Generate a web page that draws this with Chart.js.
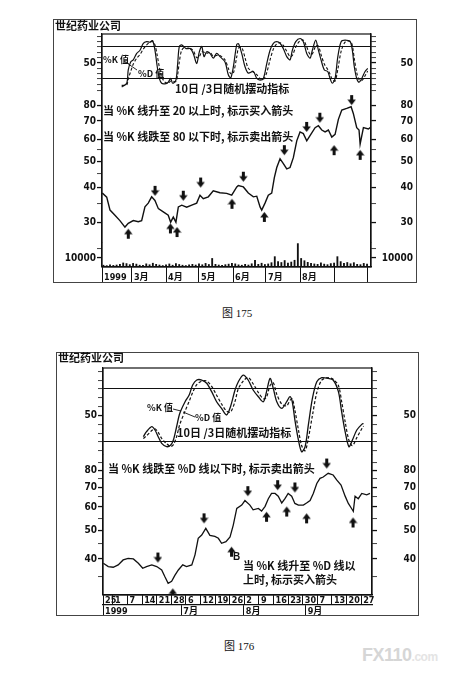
<!DOCTYPE html>
<html>
<head>
<meta charset="utf-8">
<script src="https://cdn.jsdelivr.net/npm/chart.js@4.4.1/dist/chart.umd.min.js"></script>
<style>
  body { margin: 0; background: #fff; width: 456px; height: 686px; position: relative; overflow: hidden; }
  canvas { position: absolute; }
  #fig175 { left: 53px; top: 19px; }
  #fig176 { left: 56px; top: 352px; }
  .cap { position: absolute; font: 11px 'Liberation Serif', 'Noto Sans CJK SC', serif; line-height: 14px; color: #111; white-space: nowrap; }
  .wm { position: absolute; left: 362px; top: 645px; font: bold 18px 'Liberation Sans', sans-serif; color: #d6d6d6; letter-spacing: -0.5px; }
  .wm span { font-size: 12px; color: #e4e4e4; }
</style>
</head>
<body>
<canvas id="fig175" width="364" height="264"></canvas>
<canvas id="fig176" width="363" height="264"></canvas>
<div class="cap" style="left:222px;top:306px">图 175</div>
<div class="cap" style="left:224px;top:639px">图 176</div>
<div class="wm">FX110<span>.com</span></div>

<script>
// ---- 图175 : daily, x = calendar day counted from 1 Feb 1999 ----
const topMonthTicks = [0.7, 28, 59, 89, 120, 150, 181, 212, 242];
const topMonthLabels = ['1999', '3月', '4月', '5月', '6月', '7月', '8月', '', ''];

const topPriceDays = [1, 5, 8, 12.5, 17, 21.6, 24.6, 29.2, 33.7, 36.8, 39.8, 42.8, 45.9, 48.9, 52,
  56.5, 61, 63.2, 65.6, 68, 70.2, 73.3, 77.8, 82.4, 86.9, 89.9, 92.9, 97.5, 102, 108.1,
  114.2, 118.8, 123.4, 124.8, 129.4, 133.9, 138.5, 141.6, 144.6, 146.1, 149.1, 152.1, 155.2, 157.6, 159.8,
  162.8, 165.8, 168.9, 171.9, 174.9, 178, 181, 184, 187.1, 190.1, 194.7, 197.7, 200.8, 203.8, 206.8,
  209.9, 212.9, 215.9, 219, 223.5, 227.5, 229.5, 232.6, 234.7, 235.7, 238.7, 243.2, 244.8];
const topPrice = [38.3, 37, 33.2, 31.8, 30.4, 28.8, 29.7, 30.4, 30.1, 30.4, 34.1, 35.2, 37.1, 36, 33.6,
  32.7, 31.8, 30.0, 31.3, 30, 34.1, 34.6, 34, 34.6, 35.2, 37.6, 36.5, 37.1, 39.0, 38.4,
  38.2, 37.6, 40.3, 40.8, 40.3, 38.3, 37.1, 37.3, 34.1, 33.2, 35.2, 37.6, 38.3, 43.6, 47.4,
  51.0, 49.0, 46.9, 47.4, 51.5, 59.3, 63.9, 63.0, 59.3, 62, 66.2, 67.3, 64.9, 63.9, 64.9,
  61.2, 62.6, 71.0, 76.7, 77.8, 78.9, 74.6, 66.2, 64.9, 57.7, 66.2, 65.5, 66.2];

const topOscDays = [18.6, 23.2, 24.6, 26.8, 29.2, 32.3, 35.3, 38.3, 41.4, 44.4, 46.8, 48.9, 51, 52.9, 55,
  58, 61, 63.2, 65, 68, 69.6, 71.1, 73.3, 77.2, 80.8, 83.8, 86.9, 89.3, 91.5, 93.6,
  96, 99, 102, 105.1, 108.1, 112.7, 115.7, 117.9, 120.3, 123.4, 125, 127.9, 130.9, 133.9, 138.5,
  141.6, 144.6, 147.6, 150.7, 153.7, 156.7, 159.8, 162.8, 165.8, 168.9, 171.9, 174, 177.1, 181, 184,
  187.1, 190.1, 192.2, 195.3, 197.7, 200.1, 203.1, 206.2, 208.3, 210.4, 212.9, 215.4, 218.4, 222, 226.6,
  228.6, 230.4, 232.6, 234.7, 237.2, 240.2, 242.6];
const topK = [5, 12, 37, 52, 56, 68, 74, 87, 90, 89, 92, 74, 43, 21, 12,
  11, 14, 21, 12, 18, 49, 81, 84, 77, 77, 68, 49, 71, 81, 62,
  71, 68, 59, 68, 62, 52, 28, 22, 43, 85, 86, 68, 43, 31, 34,
  21, 18, 21, 49, 74, 87, 90, 87, 77, 62, 56, 74, 90, 96, 90,
  68, 59, 74, 93, 74, 56, 37, 34, 21, 12, 21, 62, 90, 93, 90,
  74, 43, 21, 14, 21, 34, 40];
const topD = [8, 9, 20, 34, 48, 59, 66, 76, 84, 89, 90, 84, 64, 42, 24,
  14, 12, 16, 16, 15, 28, 52, 74, 81, 78, 73, 60, 62, 71, 70,
  68, 70, 63, 64, 64, 56, 40, 30, 31, 62, 78, 79, 60, 40, 33,
  28, 21, 19, 32, 56, 76, 86, 88, 83, 72, 62, 64, 80, 92, 93,
  80, 66, 67, 82, 82, 66, 48, 38, 29, 19, 16, 38, 72, 89, 91,
  83, 58, 32, 19, 17, 26, 35];

const topVolDays = [2, 5, 8, 11, 14, 17, 20, 23, 26, 29, 32, 35, 38, 41, 44, 47, 50, 53, 56, 59,
  62, 65, 68, 71, 74, 77, 80, 83, 86, 89, 92, 95, 98, 101, 104, 107, 110, 113, 116, 119,
  122, 125, 128, 131, 134, 137, 140, 143, 146, 149, 152, 155, 158, 161, 164, 167, 170, 173, 176, 179,
  182, 185, 188, 191, 194, 197, 200, 203, 206, 209, 212, 215, 218, 221, 224, 227, 230, 233, 236, 239, 242];
const topVolume = [2000, 1500, 2500, 1800, 2200, 3000, 4500, 3800, 2600, 4000, 3200, 2000, 1800, 3500, 2500, 4200, 3000, 2200, 1600, 2400,
  3400, 2000, 3800, 2800, 2000, 1600, 2400, 3000, 2200, 3600, 2500, 4000, 2800, 9500, 3000, 2200, 1800, 2600, 3200, 4000,
  3500, 2400, 2000, 3000, 2200, 3600, 7500, 3000, 4200, 2800, 3400, 4800, 11500, 6000, 5000, 7200, 4400, 5500, 7500, 26000,
  9500, 7000, 5200, 4000, 3400, 3000, 4600, 3200, 2600, 3800, 4400, 11500, 6000, 4200, 5000, 3600, 4800, 3000, 2600, 4000, 3200];

const topSellDays = [49, 74.7, 90.5, 129.4, 166.7, 187, 199, 228];
const topSellPrices = [37.4, 35.9, 40.1, 42.1, 52.6, 63.9, 69, 80];
const topBuyDays = [24.6, 63, 69, 119, 148.5, 212, 235.7];
const topBuyPrices = [28.4, 29.7, 28.8, 36.5, 32.7, 57.2, 55];

// ---- 图176 : x = trading day counted from Mon 24 May 1999 ----
const botDayTicks = [1.6, 5, 10, 15, 20, 25, 30, 35, 40, 45, 50, 55, 60, 65, 70, 75, 80, 85, 90];
const botDayLabels = ['25', '1', '7', '14', '21', '28', '6', '12', '19', '26', '2', '9', '16', '23', '30', '7', '13', '20', '27'];
const botMonthTicks = [1.6, 28.4, 49.8, 71];
const botMonthLabels = ['1999', '7月', '8月', '9月'];

const botPriceDays = [1.7, 3.4, 5.1, 6.8, 8.5, 10.2, 12, 13.7, 15.2, 16.5, 18.3, 20, 21.7, 22.8, 23.9,
  25.1, 26.2, 27.4, 28.9, 30.2, 32, 33.1, 34.2, 35.4, 36.8, 38.2, 39.9, 41.1, 42.2, 43.7,
  45.1, 46.2, 47.4, 49.1, 50.2, 51.9, 53, 54.8, 55.9, 57.1, 58.2, 59.3, 60.5, 61.6, 62.8,
  63.9, 65, 66.2, 67.3, 68.5, 70.2, 71.3, 72.5, 73.6, 74.8, 75.9, 77, 78.7, 80.4, 81.6,
  83.1, 84.5, 85.6, 86.7, 87.3, 87.9, 89, 90.2, 91.9, 93];
const botPrice = [38.7, 37.7, 37.5, 38.2, 39.7, 40.2, 40.0, 38.7, 37.2, 37.7, 38.2, 37.7, 36.7, 34.8, 33.1,
  33.6, 35.2, 36.7, 38.2, 37.7, 38.2, 41.3, 47.0, 48.2, 50.8, 48.1, 47.7, 47.0, 45.2, 45.8,
  47.5, 52.1, 59.3, 60.9, 63.1, 60.9, 58.7, 59.3, 58.1, 60.3, 64.0, 66.7, 66.7, 65.3, 61.9,
  64.0, 66.7, 65.3, 61.7, 60.9, 60.9, 61.9, 63.1, 66.7, 72.1, 75.0, 75.8, 78, 77, 74.1,
  71.2, 65.3, 61.7, 59.3, 58, 65.3, 64.0, 66.7, 66, 66.7];

const botOscDays = [15.4, 16.5, 18.3, 19.4, 20.5, 21.7, 23.4, 24.8, 25.7, 26.8, 27.9, 29.7, 31.1, 32.3, 33.7,
  35.4, 37.1, 38.8, 40.5, 42.2, 43.9, 45.3, 46.8, 47.9, 49.6, 51.3, 53, 54.8, 56.5, 57.6,
  58.8, 59.9, 61.1, 62.8, 64.5, 65.6, 66.4, 67.3, 68.5, 69.6, 70.8, 71.9, 73.3, 74.8, 76.5,
  78.7, 80.4, 82.2, 83.3, 84.5, 85.8, 87, 88.5, 90.2, 90.8];
const botK = [26, 31.7, 37.3, 33.6, 26, 18.5, 14.7, 16.6, 22.3, 37.3, 52.5, 65.6, 73.2, 84.5, 90.2,
  90.2, 86.5, 77, 65.6, 58.1, 50.6, 60.5, 78.9, 88, 95.8, 90.2, 78.9, 71.3, 65.6, 77,
  92.1, 80.8, 65.6, 58.1, 65.6, 71.3, 65.6, 44.9, 22.3, 9, 14.7, 39.2, 69.4, 88.3, 92.8,
  92, 90.2, 77, 54.3, 31.7, 14.7, 22.3, 33.6, 40, 41];
const botD = [24, 27, 33, 35, 31, 24, 18, 15, 17, 26, 40, 55, 66, 76, 85,
  89, 89, 83, 73, 63, 55, 54, 66, 80, 89, 93, 86, 76, 69, 71,
  84, 87, 74, 63, 61, 67, 69, 56, 34, 16, 10, 24, 50, 76, 90,
  93, 91, 84, 66, 43, 22, 16, 25, 35, 38];

const botSellDays = [20.4, 36.2, 51.2, 61.4, 67.3, 78.2];
const botSellPrices = [38.9, 52.8, 65.3, 68.4, 67.2, 81];
const botBuyDays = [25.5, 45.6, 57.6, 64.5, 71.3, 87.2];
const botBuyPrices = [31.8, 44.0, 57.8, 60.2, 57.1, 55.3];

// ---- helpers ----
const INK = '#111';
const tickFont = { family: "'Liberation Sans Narrow', 'DejaVu Sans Condensed', 'Liberation Sans', sans-serif", size: 10, weight: 'bold' };
const rowFont = { family: "'Liberation Sans Narrow', 'DejaVu Sans Condensed', 'Liberation Sans', 'Noto Sans CJK SC', sans-serif", size: 9, weight: 'bold' };
const noteFont = "bold 11px 'Noto Sans CJK SC', sans-serif";
const smallNote = "bold 9px 'Noto Sans CJK SC', sans-serif";

const zip = (xs, ys) => xs.map((x, i) => ({ x: x, y: ys[i] }));

function makeArrow(down) {
  const c = document.createElement('canvas');
  c.width = 9; c.height = 22;
  const g = c.getContext('2d');
  g.fillStyle = INK;
  g.beginPath();
  if (down) {
    g.moveTo(4.5, 11); g.lineTo(0.3, 5.5); g.lineTo(3, 5.5); g.lineTo(3, 1); g.lineTo(6, 1); g.lineTo(6, 5.5); g.lineTo(8.7, 5.5);
  } else {
    g.moveTo(4.5, 11); g.lineTo(8.7, 16.5); g.lineTo(6, 16.5); g.lineTo(6, 21); g.lineTo(3, 21); g.lineTo(3, 16.5); g.lineTo(0.3, 16.5);
  }
  g.closePath();
  g.fill();
  return c;
}
const arrowDown = makeArrow(true);
const arrowUp = makeArrow(false);

function sideAxis(o) {
  return {
    type: o.type || 'linear',
    position: o.pos,
    stack: o.pos,
    stackWeight: o.weight,
    min: o.min,
    max: o.max,
    afterFit: s => { s.width = o.width; },
    afterBuildTicks: s => { s.ticks = o.ticks.map(v => ({ value: v })); },
    ticks: {
      autoSkip: false,
      padding: 1,
      crossAlign: o.pos === 'right' ? 'far' : 'near',
      color: INK,
      font: tickFont,
      callback: v => o.labels.includes(v) ? String(v) : ''
    },
    grid: {
      drawOnChartArea: !!o.lines,
      color: c => (o.lines && c.tick && o.lines.includes(c.tick.value)) ? INK : 'rgba(0,0,0,0)',
      lineWidth: 1.1,
      tickColor: INK,
      tickLength: 5,
      tickWidth: c => (c.tick && o.labels.includes(c.tick.value)) ? 1.3 : 0.8
    },
    border: { display: true, color: INK, width: 1.2 }
  };
}

function rowAxis(o) {
  return {
    type: 'linear',
    position: 'bottom',
    min: o.min,
    max: o.max,
    offset: false,
    afterFit: s => { s.height = o.height; },
    afterBuildTicks: s => { s.ticks = o.ticks.map(v => ({ value: v })); },
    ticks: {
      autoSkip: false, maxRotation: 0, minRotation: 0,
      align: 'start', labelOffset: 2, padding: o.pad,
      color: INK, font: rowFont,
      callback: (v, i) => o.labels[i]
    },
    grid: { drawOnChartArea: false, offset: false, tickLength: o.height, tickColor: INK, tickWidth: 1 },
    border: { display: true, color: INK, width: 1.2 }
  };
}

const pagePlugin = {
  id: 'page',
  afterDraw(chart, args, opts) {
    const ctx = chart.ctx;
    const a = chart.chartArea;
    ctx.save();
    ctx.strokeStyle = '#444';
    ctx.lineWidth = 1;
    ctx.strokeRect(0.5, 0.5, chart.width - 1, chart.height - 1);
    ctx.strokeStyle = INK;
    ctx.lineWidth = 1.2;
    ctx.strokeRect(a.left, a.top, a.right - a.left, a.bottom - a.top);
    ctx.fillStyle = INK;
    ctx.textBaseline = 'middle';
    ctx.textAlign = 'left';
    (opts.notes || []).forEach(n => {
      ctx.font = n.font || noteFont;
      ctx.fillText(n.text, n.x, n.y);
    });
    ctx.lineWidth = 0.9;
    (opts.leaders || []).forEach(l => {
      ctx.beginPath();
      ctx.moveTo(l[0], l[1]);
      ctx.lineTo(l[2], l[3]);
      ctx.stroke();
    });
    ctx.restore();
  }
};

function lineSet(label, data, axis, dash, width, tension) {
  return {
    label: label, data: data, yAxisID: axis,
    borderColor: INK, borderWidth: width, borderDash: dash || [],
    pointRadius: 0, tension: tension, fill: false
  };
}
function arrowSet(label, data, axis, img) {
  return {
    label: label, data: data, yAxisID: axis, showLine: false,
    pointStyle: img, pointRadius: 5, pointHoverRadius: 5
  };
}

const common = {
  responsive: false,
  animation: false,
  events: [],
  plugins: { legend: { display: false }, tooltip: { enabled: false } }
};

// ---- 图175 ----
new Chart(document.getElementById('fig175'), {
  type: 'line',
  data: {
    datasets: [
      lineSet('%K', zip(topOscDays, topK), 'osc', null, 1.2, 0.3),
      lineSet('%D', zip(topOscDays, topD), 'osc', [3, 2], 1.1, 0.3),
      lineSet('收盘价', zip(topPriceDays, topPrice), 'price', null, 1.4, 0),
      { type: 'bar', label: '成交量', data: zip(topVolDays, topVolume), yAxisID: 'vol', backgroundColor: INK, barThickness: 1.2 },
      arrowSet('卖出', zip(topSellDays, topSellPrices), 'price', arrowDown),
      arrowSet('买入', zip(topBuyDays, topBuyPrices), 'price', arrowUp)
    ]
  },
  options: Object.assign({}, common, {
    layout: { padding: { top: 15, right: 4, left: 0, bottom: 0 } },
    scales: {
      x: rowAxis({ min: 0.7, max: 245.6, height: 16, pad: -11, ticks: topMonthTicks, labels: topMonthLabels }),
      vol: sideAxis({ pos: 'left', weight: 24, min: 0, max: 26667, width: 49, ticks: [10000, 20000], labels: [10000] }),
      price: sideAxis({ pos: 'left', type: 'logarithmic', weight: 155, min: 25.2, max: 92.3, width: 49,
        ticks: [30, 35, 40, 45, 50, 55, 60, 70, 80, 90], labels: [30, 40, 50, 60, 70, 80] }),
      osc: sideAxis({ pos: 'left', weight: 54, min: 3.1, max: 104.4, width: 49,
        ticks: [10, 20, 30, 40, 50, 60, 70, 80, 90, 100], labels: [50], lines: [20, 80] }),
      oscR: sideAxis({ pos: 'right', weight: 54, min: 3.1, max: 104.4, width: 42,
        ticks: [10, 20, 30, 40, 50, 60, 70, 80, 90, 100], labels: [50] }),
      priceR: sideAxis({ pos: 'right', type: 'logarithmic', weight: 155, min: 25.2, max: 92.3, width: 42,
        ticks: [30, 35, 40, 45, 50, 55, 60, 70, 80, 90], labels: [30, 40, 50, 60, 70, 80] }),
      volR: sideAxis({ pos: 'right', weight: 24, min: 0, max: 26667, width: 42, ticks: [10000, 20000], labels: [10000] })
    },
    plugins: Object.assign({}, common.plugins, {
      page: {
        notes: [
          { text: '世纪药业公司', x: 2, y: 7 },
          { text: '%K 值', x: 50, y: 41, font: smallNote },
          { text: '%D 值', x: 85, y: 55, font: smallNote },
          { text: '10日 /3日随机摆动指标', x: 122, y: 70 },
          { text: '当 %K 线升至 20 以上时, 标示买入箭头', x: 50, y: 92 },
          { text: '当 %K 线跌至 80 以下时, 标示卖出箭头', x: 50, y: 118 }
        ],
        leaders: [[71, 42, 84, 51]]
      }
    })
  }),
  plugins: [pagePlugin]
});

// ---- 图176 ----
new Chart(document.getElementById('fig176'), {
  type: 'line',
  data: {
    datasets: [
      lineSet('%K', zip(botOscDays, botK), 'osc', null, 1.3, 0.3),
      lineSet('%D', zip(botOscDays, botD), 'osc', [3, 2], 1.2, 0.3),
      lineSet('收盘价', zip(botPriceDays, botPrice), 'price', null, 1.3, 0),
      arrowSet('卖出', zip(botSellDays, botSellPrices), 'price', arrowDown),
      arrowSet('买入', zip(botBuyDays, botBuyPrices), 'price', arrowUp)
    ]
  },
  options: Object.assign({}, common, {
    layout: { padding: { top: 16, right: 3, left: 0, bottom: 0 } },
    scales: {
      x: rowAxis({ min: 1.6, max: 93.7, height: 10, pad: -10, ticks: botDayTicks, labels: botDayLabels }),
      x2: rowAxis({ min: 1.6, max: 93.7, height: 11, pad: -10, ticks: botMonthTicks, labels: botMonthLabels }),
      price: sideAxis({ pos: 'left', type: 'logarithmic', weight: 140, min: 30.2, max: 90, width: 47,
        ticks: [35, 40, 45, 50, 55, 60, 65, 70, 75, 80, 85], labels: [40, 50, 60, 70, 80] }),
      osc: sideAxis({ pos: 'left', weight: 87, min: 5.3, max: 103.8, width: 47,
        ticks: [10, 20, 30, 40, 50, 60, 70, 80, 90, 100], labels: [50], lines: [20, 80] }),
      oscR: sideAxis({ pos: 'right', weight: 87, min: 5.3, max: 103.8, width: 44,
        ticks: [10, 20, 30, 40, 50, 60, 70, 80, 90, 100], labels: [50] }),
      priceR: sideAxis({ pos: 'right', type: 'logarithmic', weight: 140, min: 30.2, max: 90, width: 44,
        ticks: [35, 40, 45, 50, 55, 60, 65, 70, 75, 80, 85], labels: [40, 50, 60, 70, 80] })
    },
    plugins: Object.assign({}, common.plugins, {
      page: {
        notes: [
          { text: '世纪药业公司', x: 2, y: 6 },
          { text: '%K 值', x: 91, y: 56, font: smallNote },
          { text: '%D 值', x: 139, y: 66, font: smallNote },
          { text: '10日 /3日随机摆动指标', x: 121, y: 81 },
          { text: '当 %K 线跌至 %D 线以下时, 标示卖出箭头', x: 52, y: 117 },
          { text: '当 %K 线升至 %D 线以', x: 187, y: 214 },
          { text: '上时, 标示买入箭头', x: 187, y: 228 },
          { text: 'B', x: 177, y: 205, font: "bold 10px 'Liberation Sans', sans-serif" }
        ],
        leaders: [[117, 57, 125, 59], [127, 60, 139, 65]]
      }
    })
  }),
  plugins: [pagePlugin]
});
</script>
</body>
</html>
